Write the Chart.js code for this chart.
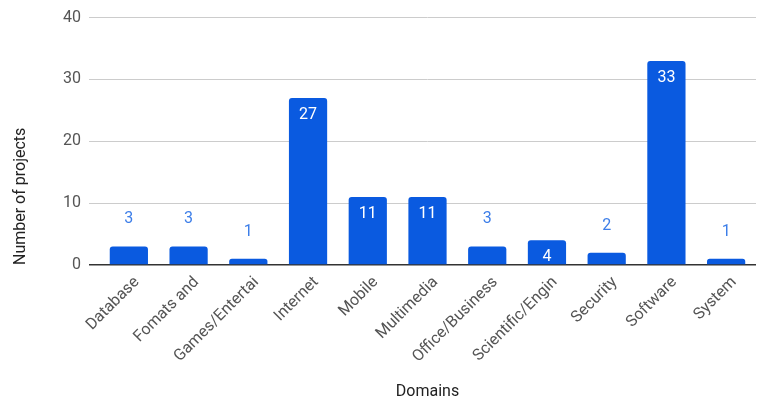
<!DOCTYPE html>
<html lang="en">
<head>
  <meta charset="UTF-8">
  <title>Number of projects by domain</title>
  <style>
    html, body {
      margin: 0;
      padding: 0;
      background: #fff;
    }
    #chart-box {
      width: 761px;
      height: 408px;
    }
  </style>
</head>
<body>
  <div id="chart-box"><canvas id="chart"></canvas></div>

  <script src="https://cdn.jsdelivr.net/npm/chart.js"></script>
  <script>
    const domains = ['Database', 'Fomats and', 'Games/Entertai', 'Internet', 'Mobile', 'Multimedia',
      'Office/Business', 'Scientific/Engin', 'Security', 'Software', 'System'];
    const projectCounts = [3, 3, 1, 27, 11, 11, 3, 4, 2, 33, 1];
    const yTicks = [0, 10, 20, 30, 40];

    const barBlue = '#0a5ae0';

    // value labels: white inside tall bars, blue above short ones
    const valueLabels = {
      id: 'valueLabels',
      afterDatasetsDraw(chart) {
        const ctx = chart.ctx;
        const meta = chart.getDatasetMeta(0);
        ctx.save();
        ctx.font = '16px Roboto';
        ctx.textAlign = 'center';
        ctx.textBaseline = 'middle';
        meta.data.forEach((bar, i) => {
          const v = projectCounts[i];
          const inside = v >= 4;
          ctx.fillStyle = inside ? '#ffffff' : '#3d7ee8';
          const y = inside ? bar.y + 17 : bar.y - 27;
          ctx.fillText(String(v), bar.x, y);
        });
        ctx.restore();
      }
    };

    new Chart(document.getElementById('chart'), {
      type: 'bar',
      data: {
        labels: domains,
        datasets: [{
          label: 'Number of projects',
          data: projectCounts,
          backgroundColor: barBlue,
          borderRadius: 3,
          barPercentage: 0.64,
          categoryPercentage: 1
        }]
      },
      options: {
        responsive: true,
        maintainAspectRatio: false,
        animation: false,
        layout: {
          padding: { top: 8, right: 5, left: 0, bottom: 0 }
        },
        plugins: {
          legend: { display: false },
          tooltip: { enabled: false }
        },
        scales: {
          x: {
            grid: { display: false },
            border: { display: false },
            ticks: {
              color: '#555',
              font: { family: 'Roboto', size: 16 },
              minRotation: 45,
              maxRotation: 45,
              autoSkip: false,
              padding: 0,
              labelOffset: 8
            },
            title: {
              display: true,
              text: 'Domains',
              color: '#222',
              font: { family: 'Roboto', size: 16 },
              padding: { top: 4, bottom: 6 }
            },
            afterFit(scale) { scale.height = 143; }
          },
          y: {
            min: 0,
            max: 40,
            afterBuildTicks(scale) { scale.ticks = yTicks.map(v => ({ value: v })); },
            grid: {
              color: c => c.tick && c.tick.value === 0 ? '#333' : '#cccccc',
              lineWidth: c => c.tick && c.tick.value === 0 ? 1.5 : 1,
              tickLength: 10
            },
            border: { display: false },
            ticks: {
              color: '#555',
              font: { family: 'Roboto', size: 16 },
              padding: 8
            },
            title: {
              display: true,
              text: 'Number of projects',
              align: 'start',
              color: '#222',
              font: { family: 'Roboto', size: 16 },
              padding: { top: 11, bottom: 4 }
            },
            afterFit(scale) { scale.width = 99; }
          }
        }
      },
      plugins: [valueLabels]
    });
  </script>
</body>
</html>
